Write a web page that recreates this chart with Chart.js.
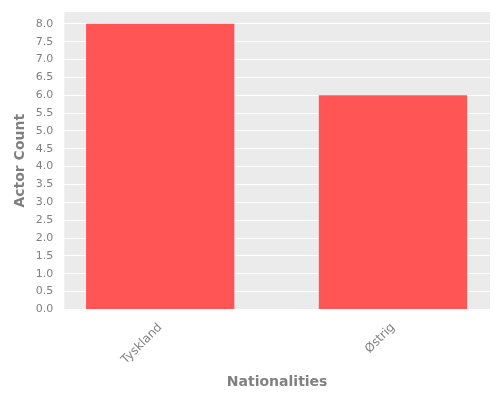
<!DOCTYPE html>
<html><head><meta charset="utf-8">
<script src="https://cdn.jsdelivr.net/npm/chart.js@4"></script>
<style>html,body{margin:0;padding:0;background:#fff}#w{width:500px;height:400px}</style>
</head><body><div id="w"><canvas id="c"></canvas></div>
<script>
const categories = ["Tyskland", "Østrig"];
const actorCounts = [8, 6];
const bgPlugin = {
  id: 'bg',
  beforeDraw(chart) {
    const {ctx, chartArea: a} = chart;
    ctx.save(); ctx.fillStyle = '#EBEBEB';
    ctx.fillRect(a.left, a.top, a.right - a.left, a.bottom - a.top);
    ctx.restore();
  }
};
new Chart(document.getElementById('c'), {
  type: 'bar',
  data: { datasets: [{ data: actorCounts.map((v, i) => ({ x: i, y: v })), backgroundColor: '#FF5555', barPercentage: 0.637, categoryPercentage: 1.0 }] },
  options: {
    responsive: true, maintainAspectRatio: false, animation: false,
    layout: { padding: { top: 12, right: 10, left: 8, bottom: 5 } },
    plugins: { legend: { display: false }, tooltip: { enabled: false } },
    scales: {
      x: {
        type: 'linear', min: -0.412, max: 1.417, offset: false,
        grid: { display: false }, border: { display: false },
        afterBuildTicks: ax => { ax.ticks = categories.map((c, i) => ({ value: i })); },
        ticks: { color: '#808080', font: { family: 'DejaVu Sans', size: 12 }, maxRotation: 45, minRotation: 45, callback: v => categories[v] },
        title: { display: true, text: 'Nationalities', color: '#808080', font: { family: 'DejaVu Sans', size: 14, weight: 'bold' } }
      },
      y: {
        min: 0, max: 8.33,
        grid: { color: '#FFFFFF', lineWidth: 1 }, border: { display: false },
        ticks: { stepSize: 0.5, color: '#808080', font: { family: 'DejaVu Sans', size: 11 }, callback: v => (Math.round(v*2)/2).toFixed(1) },
        afterBuildTicks: ax => { ax.ticks = []; for (let i = 0; i <= 16; i++) ax.ticks.push({ value: i * 0.5 }); },
        title: { display: true, text: 'Actor Count', color: '#808080', font: { family: 'DejaVu Sans', size: 14, weight: 'bold' } }
      }
    }
  },
  plugins: [bgPlugin]
});
</script></body></html>
